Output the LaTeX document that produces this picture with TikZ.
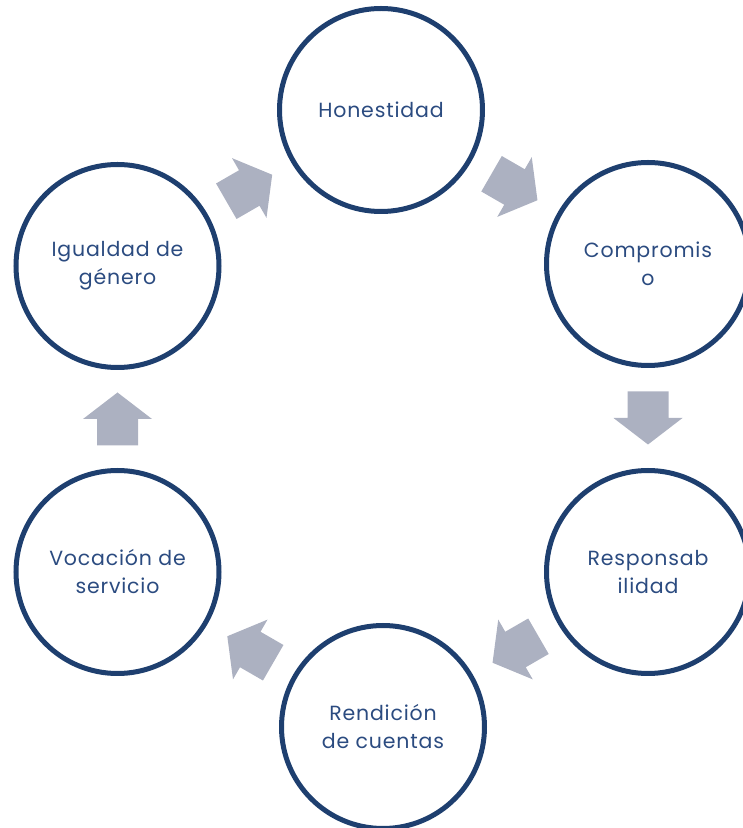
\documentclass[tikz,border=0pt]{standalone}
\usepackage{fontspec}
\setmainfont[LetterSpace=4]{Poppins}
\usetikzlibrary{calc}
\definecolor{ringblue}{HTML}{1E3F6F}
\definecolor{textblue}{HTML}{2B4B80}
\definecolor{arrowgray}{HTML}{ACB1C1}
\tikzset{
  ring/.style={circle, draw=ringblue, line width=5pt, minimum size=203pt, inner sep=0pt,
    text=textblue, align=center, font=\fontsize{20.5}{28}\selectfont},
  blockarr/.pic={\fill[arrowgray] (-26.5,20.5) -- (0,20.5) -- (0,34.5) -- (26.5,0) -- (0,-34.5) -- (0,-20.5) -- (-26.5,-20.5) -- cycle;}
}
\begin{document}
\begin{tikzpicture}[x=1pt,y=1pt]
\useasboundingbox (0,0) rectangle (743,828);
\node[ring] (hon) at (381,718) {Honestidad};
\node[ring] (com) at (648,564) {Compromis\\o};
\node[ring] (res) at (648,256) {Responsab\\ilidad};
\node[ring] (ren) at (383,101) {Rendición\\de cuentas};
\node[ring] (voc) at (117.5,256) {Vocación de\\servicio};
\node[ring] (igu) at (117.5,562) {Igualdad de\\género};
\path ($(hon)!0.5!(com)$) pic[rotate=-30] {blockarr};
\path ($(com)!0.5!(res)$) pic[rotate=-90] {blockarr};
\path ($(res)!0.5!(ren)$) pic[rotate=210] {blockarr};
\path ($(ren)!0.5!(voc)$) pic[rotate=150] {blockarr};
\path ($(voc)!0.5!(igu)$) pic[rotate=90] {blockarr};
\path ($(igu)!0.5!(hon)$) pic[rotate=30] {blockarr};
\end{tikzpicture}
\end{document}
